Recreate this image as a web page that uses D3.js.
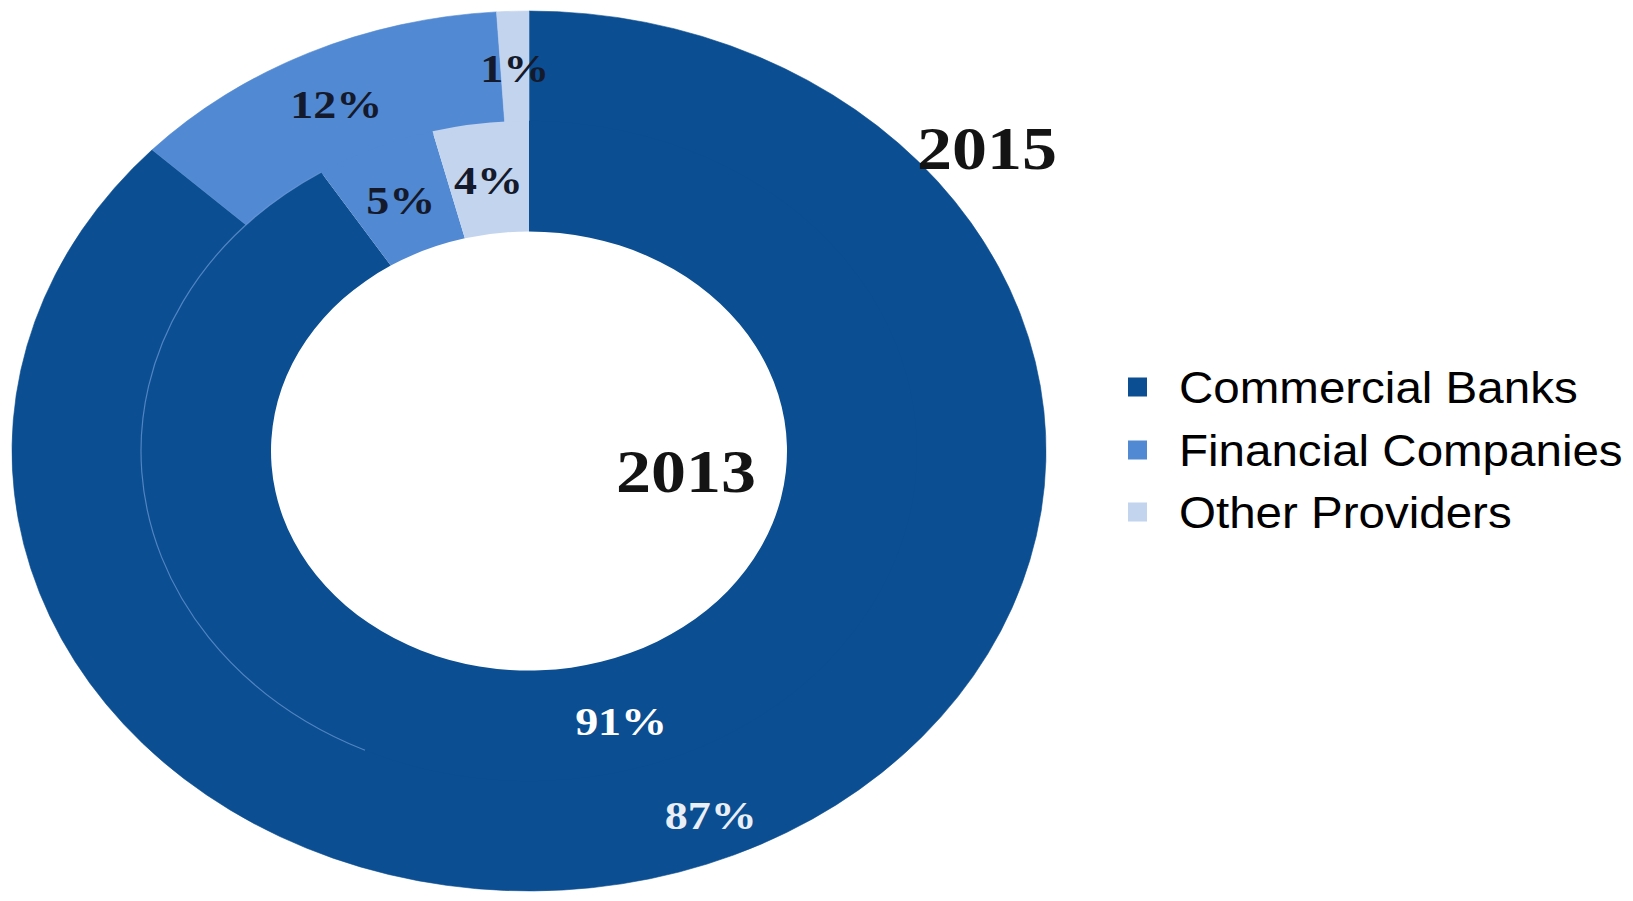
<!DOCTYPE html>
<html>
<head>
<meta charset="utf-8">
<script src="https://cdn.jsdelivr.net/npm/d3@7"></script>
<style>
  html, body { margin: 0; padding: 0; background: #ffffff; }
  svg { display: block; }
</style>
</head>
<body>
<svg id="chart" width="1633" height="901"></svg>
<script>
// ---- data ----
const categories = ["Commercial Banks", "Financial Companies", "Other Providers"];
const values2015 = [87, 12, 1];
const values2013 = [91, 5, 4];
const ringYears = ["2015", "2013"];
const colors = ["#0b4e91", "#5289d3", "#c3d4ee"];

// ---- layout ----
const svg = d3.select("#chart");
const cx = 529, cy = 451;
const yScale = 0.851;
const rOuter = 517, rMid = 388, rInner = 258;

const pie = d3.pie().sort(null).value(d => d);
// outer ring slightly overlaps under the inner ring to avoid an anti-aliasing seam
const arcOuterDraw = d3.arc().innerRadius(rMid - 4).outerRadius(rOuter);
const arcOuter = d3.arc().innerRadius(rMid).outerRadius(rOuter);
const arcInner = d3.arc().innerRadius(rInner).outerRadius(rMid);

const g = svg.append("g").attr("transform", `translate(${cx},${cy}) scale(1,${yScale})`);

const color = d3.scaleOrdinal().domain(categories).range(colors);

const outerData = pie(values2015);
const innerData = pie(values2013);

g.selectAll("path.outer").data(outerData).enter().append("path")
  .attr("class", "outer")
  .attr("d", arcOuterDraw)
  .attr("fill", (d, i) => color(categories[i]))
  .attr("stroke", (d, i) => color(categories[i]))
  .attr("stroke-width", 0.6)
  .attr("vector-effect", "non-scaling-stroke");

g.selectAll("path.inner").data(innerData).enter().append("path")
  .attr("class", "inner")
  .attr("d", arcInner)
  .attr("fill", (d, i) => color(categories[i]));

// faint separator between rings over the banks region (left side only)
const sepArc = d3.arc().innerRadius(rMid).outerRadius(rMid)
  .startAngle(205 * Math.PI / 180).endAngle(innerData[0].endAngle);
g.append("path").attr("d", sepArc())
  .attr("fill", "none").attr("stroke", "#6f9bd9").attr("stroke-width", 1.2)
  .attr("stroke-opacity", 0.7).attr("vector-effect", "non-scaling-stroke");

// ---- slice labels ----
function placeLabels(data, arcGen, cls, dy) {
  svg.selectAll("text." + cls).data(data).enter().append("text")
    .attr("class", cls)
    .attr("transform", d => {
      const c = arcGen.centroid(d);
      const extra = d.index === 0 ? dy : 2;
      return `translate(${cx + c[0] + (d.index === 0 ? 2 : 0)},${cy + c[1] * yScale + extra}) scale(1.15,1)`;
    })
    .attr("text-anchor", "middle")
    .attr("dominant-baseline", "central")
    .attr("font-family", "'Liberation Serif', 'Times New Roman', serif")
    .attr("font-weight", "bold")
    .attr("font-size", 40)
    .attr("fill", (d, i) => i === 0 ? (cls === "lo" ? "#e9eef7" : "#ffffff") : "#141a2c")
    .text(d => d.data + "%");
}
placeLabels(outerData, arcOuter, "lo", 11);
placeLabels(innerData, arcInner, "li", 7);

// ---- ring year labels ----
const yearPos = [[987, 169], [686, 492]];
svg.selectAll("text.year").data(ringYears).enter().append("text")
  .attr("class", "year")
  .attr("transform", (d, i) => `translate(${yearPos[i][0]},${yearPos[i][1]}) scale(1.13,1)`)
  .attr("text-anchor", "middle")
  .attr("font-family", "'Liberation Serif', 'Times New Roman', serif")
  .attr("font-weight", "bold")
  .attr("font-size", 62)
  .attr("fill", "#141414")
  .text(d => d);

// ---- legend ----
const legend = svg.append("g").attr("transform", "translate(1128,0)");
const rowY = [387, 450, 512];
const items = legend.selectAll("g.item").data(categories).enter().append("g")
  .attr("class", "item")
  .attr("transform", (d, i) => `translate(0,${rowY[i]})`);
items.append("rect")
  .attr("x", 0).attr("y", -9.5).attr("width", 19).attr("height", 19)
  .attr("fill", d => color(d));
items.append("text")
  .attr("transform", "translate(51,16) scale(1.08,1)")
  .attr("font-family", "'Liberation Sans', Arial, sans-serif")
  .attr("font-size", 44)
  .attr("fill", "#000000")
  .text(d => d);
</script>
</body>
</html>
